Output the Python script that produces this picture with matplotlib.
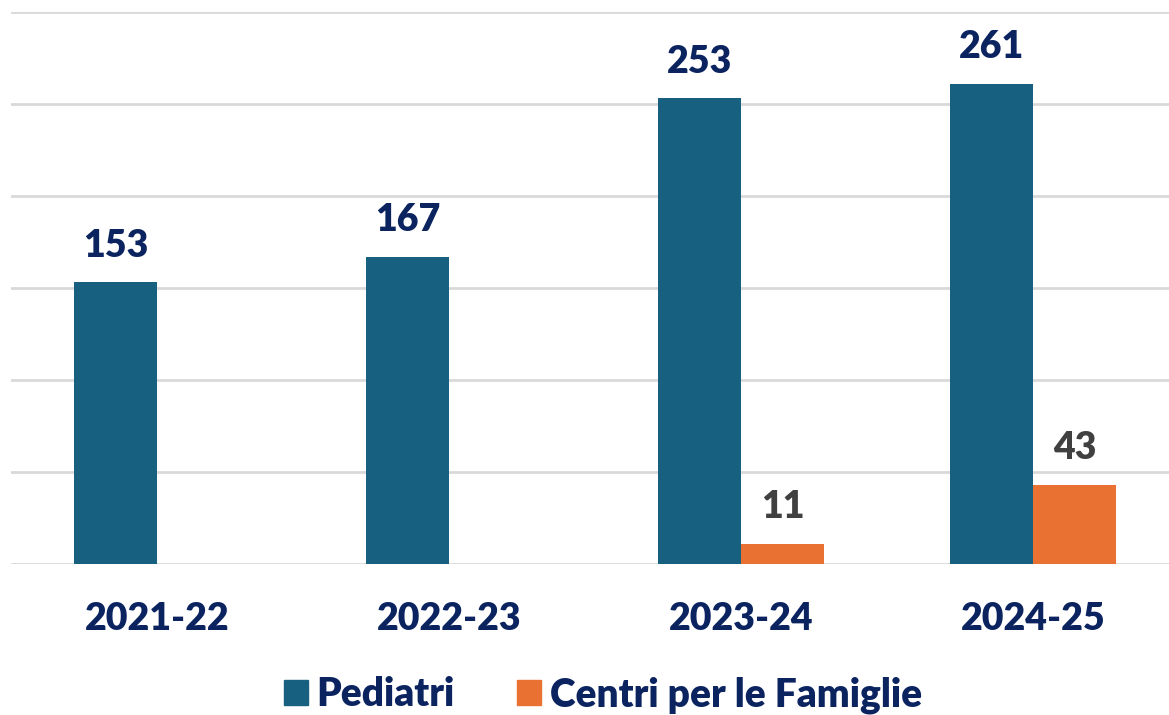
import matplotlib.pyplot as plt
import numpy as np
from matplotlib.patches import Patch

anni = ['2021-22', '2022-23', '2023-24', '2024-25']
pediatri = [153, 167, 253, 261]
centri = [None, None, 11, 43]

BLU = '#17607F'
ARANCIO = '#E97132'
NAVY = '#0B2460'
GRIGIO = '#404040'

plt.rcParams['font.family'] = ['Lato', 'DejaVu Sans']
PESO = 'heavy'

fig = plt.figure(figsize=(11.69, 7.15), dpi=100)
ax = fig.add_axes([11 / 1169, 151 / 715, 1 - 11 / 1169, (564 - 12) / 715])

x = np.arange(len(anni))
w = 0.284

for i, v in enumerate(pediatri):
    ax.bar(x[i] - w / 2, v, width=w, color=BLU, zorder=3)
    ax.annotate(str(v), (x[i] - w / 2, v), xytext=(0, 14), textcoords='offset points',
                ha='center', va='bottom', fontsize=27, fontweight=PESO, color=NAVY)

for i, v in enumerate(centri):
    if v is None:
        continue
    ax.bar(x[i] + w / 2, v, width=w, color=ARANCIO, zorder=3)
    ax.annotate(str(v), (x[i] + w / 2, v), xytext=(0, 14), textcoords='offset points',
                ha='center', va='bottom', fontsize=27, fontweight=PESO, color=GRIGIO)

ax.set_ylim(0, 300)
ax.set_xlim(-0.5, 3.5 - 10 / 292)
ax.set_yticks(np.arange(0, 301, 50))
ax.yaxis.grid(True, color='#D9D9D9', linewidth=2, zorder=0)
ax.set_yticklabels([])
ax.tick_params(axis='y', length=0)
ax.set_xticks(x)
ax.set_xticklabels(anni, fontsize=27, fontweight=PESO, color=NAVY)
ax.tick_params(axis='x', length=0, pad=27)
for s in ax.spines.values():
    s.set_visible(False)

handles = [Patch(color=BLU, label='Pediatri'), Patch(color=ARANCIO, label='Centri per le Famiglie')]
fig.legend(handles=handles, loc='center', bbox_to_anchor=(603 / 1169, 1 - 695 / 715),
           ncol=2, frameon=False, handlelength=0.62, handleheight=0.62,
           handletextpad=0.22, columnspacing=1.6,
           prop={'size': 28, 'weight': PESO}, labelcolor=NAVY)

fig.savefig('out.png', dpi=100)
